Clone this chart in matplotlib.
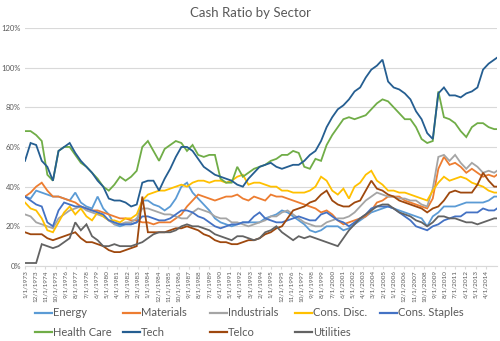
import matplotlib.pyplot as plt
import matplotlib.lines as mlines
import pandas as pd

plt.rcParams['font.family'] = ['Lato', 'DejaVu Sans']

# data points: every 6 months from Jan 1973 to Jan 2015, plus Apr 2015
periods = list(pd.date_range('1973-01-01', '2015-01-01', freq='6MS')) + [pd.Timestamp('2015-04-01')]

energy = [35, 34, 38, 37, 36, 35, 35, 34, 33, 37, 32, 30, 29, 35, 29, 26, 21, 20, 21, 21,
          22, 33, 33, 31, 30, 28, 30, 34, 40, 42, 37, 34, 31, 28, 24, 22, 21, 20, 21, 22,
          22, 22, 22, 24, 25, 26, 28, 27, 25, 23, 21, 18, 17, 18, 20, 20, 20, 18, 19, 21,
          23, 25, 27, 28, 29, 30, 29, 28, 27, 26, 25, 24, 20, 25, 27, 30, 30, 30, 31, 32,
          32, 32, 32, 33, 35, 35]
materials = [35, 37, 40, 42, 38, 35, 35, 34, 33, 32, 30, 29, 28, 28, 27, 26, 25, 24, 24, 23,
             23, 22, 22, 21, 22, 22, 22, 24, 26, 30, 33, 36, 35, 34, 33, 34, 35, 35, 36, 34,
             33, 35, 34, 33, 36, 35, 35, 34, 33, 32, 31, 30, 29, 27, 28, 26, 23, 21, 22, 23,
             24, 25, 28, 32, 33, 35, 35, 35, 33, 32, 31, 30, 29, 34, 49, 55, 51, 52, 50, 47,
             49, 47, 45, 46, 45, 46]
industrials = [26, 25, 22, 21, 20, 19, 24, 26, 28, 29, 30, 28, 27, 26, 25, 23, 21, 21, 22, 22,
               24, 29, 29, 28, 27, 26, 26, 25, 24, 24, 27, 29, 28, 27, 25, 24, 24, 22, 22, 21,
               20, 21, 22, 23, 25, 25, 27, 28, 26, 24, 22, 21, 20, 20, 22, 23, 24, 24, 25, 27,
               30, 33, 35, 37, 36, 35, 35, 34, 34, 33, 33, 31, 30, 39, 55, 56, 53, 56, 52, 49,
               52, 50, 47, 48, 47, 48]
cons_disc = [32, 29, 28, 24, 18, 17, 22, 27, 30, 26, 29, 25, 23, 27, 25, 23, 23, 22, 24, 24,
             26, 33, 36, 37, 38, 38, 39, 40, 41, 40, 42, 43, 43, 42, 43, 43, 42, 43, 45, 46,
             41, 42, 42, 41, 40, 40, 38, 38, 37, 37, 37, 38, 40, 45, 43, 38, 36, 39, 34, 40,
             42, 46, 48, 43, 41, 38, 38, 37, 37, 36, 35, 34, 33, 38, 42, 45, 43, 44, 45, 44,
             42, 41, 40, 38, 37, 37]
cons_staples = [35, 33, 31, 30, 22, 20, 28, 32, 31, 30, 30, 29, 28, 27, 26, 23, 22, 21, 21, 21,
                22, 25, 25, 24, 23, 23, 24, 26, 28, 28, 27, 25, 24, 22, 20, 19, 20, 21, 21, 22,
                22, 25, 27, 24, 23, 22, 22, 23, 24, 25, 24, 23, 23, 26, 27, 25, 23, 22, 20, 22,
                24, 26, 29, 30, 30, 30, 29, 27, 25, 23, 20, 19, 18, 20, 21, 23, 24, 25, 25, 27,
                27, 27, 29, 28, 28, 29]
health_care = [68, 68, 66, 63, 46, 43, 58, 60, 60, 56, 52, 50, 47, 44, 40, 38, 41, 45, 43, 45,
               48, 60, 63, 58, 53, 59, 61, 63, 62, 58, 61, 56, 55, 56, 56, 44, 42, 42, 50, 45,
               47, 49, 50, 51, 53, 54, 56, 56, 58, 57, 50, 49, 54, 53, 61, 66, 70, 74, 75, 74,
               75, 76, 79, 82, 84, 83, 80, 77, 74, 74, 70, 64, 62, 63, 88, 75, 74, 72, 68, 65,
               70, 72, 72, 70, 69, 69]
tech = [53, 62, 61, 53, 50, 43, 58, 60, 62, 57, 53, 50, 47, 43, 40, 34, 33, 33, 32, 30,
        31, 42, 43, 43, 38, 44, 49, 55, 60, 60, 58, 54, 50, 48, 46, 45, 44, 43, 41, 40,
        44, 47, 50, 51, 52, 50, 49, 50, 51, 51, 53, 56, 58, 63, 70, 75, 79, 81, 84, 88,
        90, 95, 99, 101, 104, 93, 90, 89, 87, 84, 78, 74, 67, 64, 87, 90, 86, 86, 85, 87,
        88, 90, 99, 102, 104, 105]
telco = [17, 16, 16, 16, 14, 13, 14, 15, 16, 17, 14, 12, 12, 11, 10, 8, 7, 7, 8, 9,
         10, 35, 17, 17, 17, 17, 18, 19, 19, 20, 19, 18, 16, 15, 13, 12, 12, 11, 11, 12,
         13, 13, 14, 16, 17, 19, 20, 24, 28, 29, 30, 32, 33, 36, 38, 33, 31, 30, 30, 32,
         33, 38, 43, 39, 38, 36, 35, 33, 32, 31, 30, 29, 27, 29, 30, 33, 37, 38, 37, 37,
         37, 41, 47, 43, 40, 40]
utilities = [1.5, 1.5, 1.5, 11, 10, 9, 10, 12, 14, 22, 18, 21, 15, 13, 10, 10, 11, 10, 10, 10,
             11, 12, 14, 16, 17, 17, 17, 18, 20, 21, 20, 20, 19, 18, 16, 15, 14, 13, 15, 15,
             14, 13, 14, 17, 18, 20, 17, 15, 13, 15, 14, 15, 14, 13, 12, 11, 10, 14, 18, 21,
             24, 26, 28, 30, 31, 31, 29, 27, 26, 25, 23, 22, 20, 22, 25, 25, 24, 24, 23, 22,
             22, 21, 22, 23, 24, 24]

tick_labels = ['1/1/1973', '12/1/1973', '11/1/1974', '10/1/1975', '9/1/1976', '8/1/1977',
               '7/1/1978', '6/1/1979', '5/1/1980', '4/1/1981', '3/1/1982', '2/1/1983',
               '1/1/1984', '12/1/1984', '11/1/1985', '10/1/1986', '9/1/1987', '8/1/1988',
               '7/1/1989', '6/1/1990', '5/1/1991', '4/1/1992', '3/1/1993', '2/1/1994',
               '1/1/1995', '12/1/1995', '11/1/1996', '10/1/1997', '9/1/1998', '8/1/1999',
               '7/1/2000', '6/1/2001', '5/1/2002', '4/1/2003', '3/1/2004', '2/1/2005',
               '1/1/2006', '12/1/2006', '11/1/2007', '10/1/2008', '9/1/2009', '8/1/2010',
               '7/1/2011', '6/1/2012', '5/1/2013', '4/1/2014']

names = ['Energy', 'Materials', 'Industrials', 'Cons. Disc.', 'Cons. Staples',
         'Health Care', 'Tech', 'Telco', 'Utilities']
series = [energy, materials, industrials, cons_disc, cons_staples,
          health_care, tech, telco, utilities]
colors = ['#5B9BD5', '#ED7D31', '#A5A5A5', '#FFC000', '#4472C4',
          '#70AD47', '#255E91', '#9E480E', '#636363']

start = pd.Timestamp('1973-01-01')
months = [(p.year - start.year) * 12 + p.month - 1 for p in periods]
tick_months = []
for lab in tick_labels:
    m, d, y = lab.split('/')
    tick_months.append((int(y) - 1973) * 12 + int(m) - 1)

fig = plt.figure(figsize=(5, 3.41), dpi=100)
ax = fig.add_axes([0.05, 0.22, 0.944, 0.698])

for vals, c in zip(series, colors):
    ax.plot(months, vals, color=c, lw=1.3, solid_joinstyle='miter')

ax.set_xlim(months[0], months[-1])
ax.set_ylim(0, 120)
ax.set_yticks(range(0, 121, 20))
ax.set_yticklabels([f'{v}%' for v in range(0, 121, 20)], fontsize=5.5, color='#595959')
ax.set_xticks(tick_months)
ax.set_xticklabels(tick_labels, rotation=90, fontsize=4.6, color='#595959')
ax.tick_params(axis='y', length=0, pad=3)
ax.tick_params(axis='x', length=2, color='#D9D9D9', pad=1)
ax.grid(axis='y', color='#D9D9D9', lw=0.8)
ax.set_axisbelow(True)
for s in ['top', 'right', 'left']:
    ax.spines[s].set_visible(False)
ax.spines['bottom'].set_color('#D9D9D9')

fig.text(0.5, 0.962, 'Cash Ratio by Sector', ha='center', va='center',
         fontsize=9.5, color='#595959')

# legend drawn by hand: Excel lays out equal-width columns row by row
col_x = [35, 123, 210, 295, 380]
row_y = [313, 332]
for k, (name, c) in enumerate(zip(names, colors)):
    r, col = divmod(k, 5)
    x0 = col_x[col] / 500
    y0 = 1 - row_y[r] / 341
    fig.add_artist(mlines.Line2D([x0, x0 + 17 / 500], [y0, y0], color=c, lw=1.6))
    fig.text(x0 + 18 / 500, y0, name, ha='left', va='center', fontsize=8, color='#595959')

fig.savefig('out.png', dpi=100)
